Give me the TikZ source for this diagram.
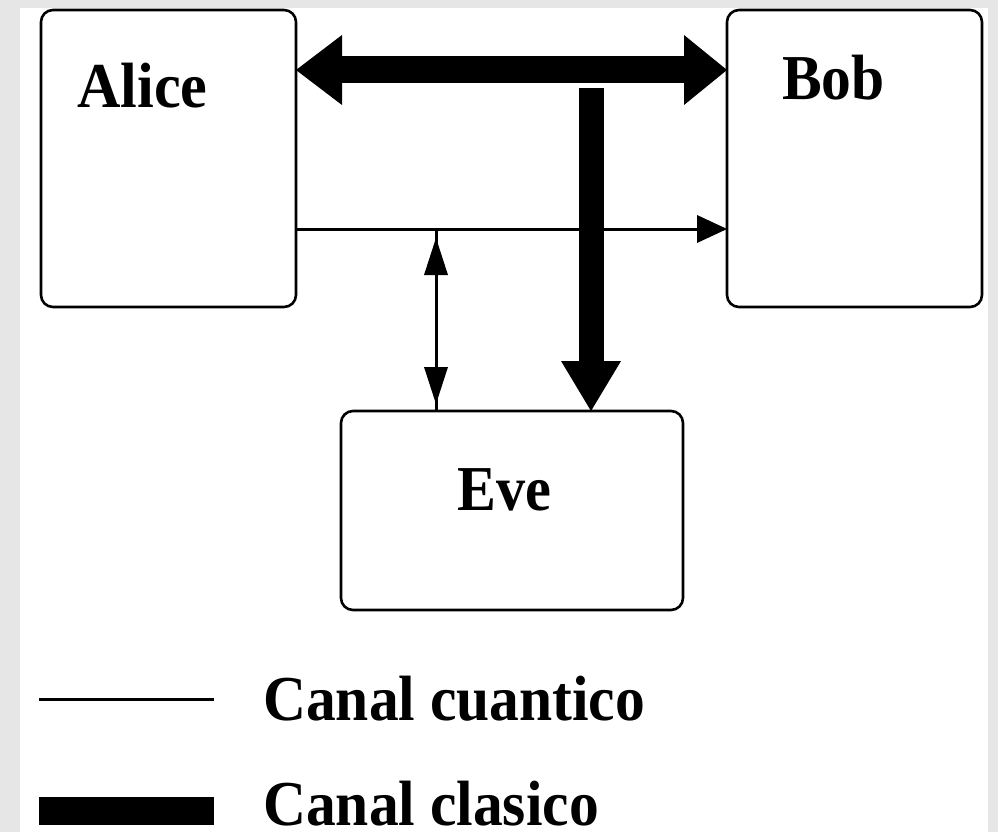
\documentclass[tikz,border=0pt]{standalone}
\usepackage{fontspec}
\setmainfont{Liberation Serif}
\usetikzlibrary{arrows.meta,calc}
\definecolor{bggray}{RGB}{230,230,230}
\begin{document}
\begin{tikzpicture}[x=1pt,y=-1pt,
  box/.style={draw,line width=2.6pt,rounded corners=12pt,inner sep=0pt,outer sep=0pt,anchor=north west},
  lbl/.style={inner sep=0pt,anchor=base west,font=\fontsize{64}{64}\selectfont\bfseries},
  quantum/.style={line width=3pt},
  classic/.style={line width=27pt}]
\useasboundingbox (0,0) rectangle (998,832);
\clip (0,0) rectangle (998,832);
\fill[bggray] (0,0) rectangle (998,832);
\fill[white] (20,8) rectangle (988,832);
% boxes
\node[box,minimum width=255pt,minimum height=297pt] (alice) at (41,10) {};
\node[box,minimum width=255pt,minimum height=297pt] (bob) at (727,10) {};
\node[box,minimum width=342pt,minimum height=199pt] (eve) at (341,411) {};
\node[lbl] (alicetxt) at (77,108) {\scalebox{0.94}[1]{Alice}};
\node[lbl] (bobtxt) at (782,100) {\scalebox{0.93}[1]{Bob}};
\node[lbl] (evetxt) at (457,510) {\scalebox{0.91}[1]{Eve}};
% classical channel Alice <-> Bob
\draw[classic,{Triangle[length=46pt,width=70pt,line width=0pt]}-{Triangle[length=43pt,width=70pt,line width=0pt]}]
  ([yshift=-60pt]alice.north east) -- ([yshift=-60pt]bob.north west);
% classical channel to Eve
\coordinate (split) at (591,88);
\draw[line width=25pt,-{Triangle[length=50pt,width=60pt,line width=0pt]}]
  (split) -- ([xshift=79pt]eve.north);
% quantum channel Alice -> Bob
\draw[quantum,-{Triangle[length=30pt,width=28pt,line width=0pt]}]
  ([yshift=-219pt]alice.north east) -- ([yshift=-219pt]bob.north west);
% Eve tapping quantum channel
\path ([yshift=-219pt]alice.north east) coordinate (qa);
\coordinate (tap) at ([xshift=-76pt]eve.north |- qa);
\draw[quantum] (tap) -- ([xshift=-76pt]eve.north);
\draw[quantum,{Triangle[length=37pt,width=24pt,line width=0pt]}-{Triangle[length=37pt,width=24pt,line width=0pt]},shorten <=9pt,shorten >=7pt]
  (tap) -- ([xshift=-76pt]eve.north);
% legend
\coordinate (lq1) at (39,699);
\coordinate (lq2) at (214,699);
\draw[quantum] (lq1) -- (lq2);
\coordinate (lc1) at (39,811);
\coordinate (lc2) at (214,811);
\draw[line width=28pt] (lc1) -- (lc2);
\node[lbl] (legq) at (263,720) {\scalebox{0.93}[1]{Canal cuantico}};
\node[lbl] (legc) at (263,825) {\scalebox{0.93}[1]{Canal clasico}};
\end{tikzpicture}
\end{document}
